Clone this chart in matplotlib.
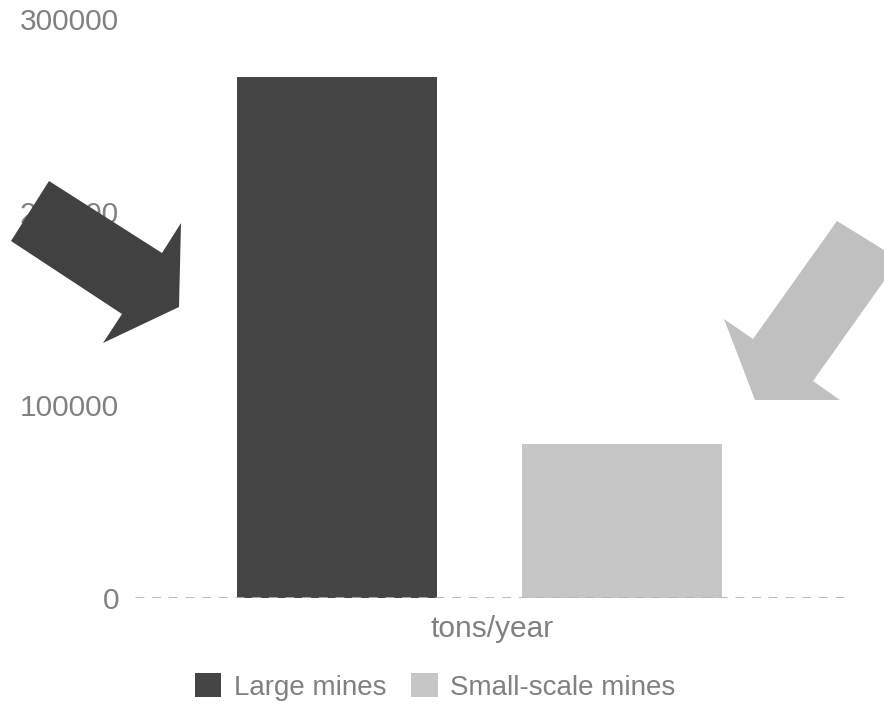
import matplotlib
matplotlib.use("Agg")
import matplotlib.pyplot as plt
from matplotlib.patches import Polygon, Patch

categories = ["Large mines", "Small-scale mines"]
values = [270000, 80000]
colors = ["#454545", "#c6c6c6"]
x_label = "tons/year"
y_ticks = [0, 100000, 200000, 300000]

W, H = 884, 704
plt.rcParams["font.family"] = ["Liberation Sans", "DejaVu Sans"]
text_color = "#808080"

fig = plt.figure(figsize=(W / 100, H / 100), dpi=100)
fig.patch.set_facecolor("white")

# axes box in pixel terms: left 135, right 850, top 19, bottom 598
ax = fig.add_axes([135 / W, 1 - 598 / H, (850 - 135) / W, (598 - 19) / H])

positions = list(range(len(categories)))
ax.bar(positions, values, width=0.7, color=colors, zorder=2)

ax.set_ylim(0, 300000)
ax.set_xlim(-0.706, 1.797)
ax.set_yticks(y_ticks)
ax.set_yticklabels([str(t) for t in y_ticks])
ax.tick_params(axis="y", length=0, pad=11.5, labelsize=21.5, labelcolor=text_color)
ax.set_xticks([])
for s in ax.spines.values():
    s.set_visible(False)

# dashed baseline drawn over the bars
ax.axhline(0, color="#b4b4b4", lw=2.0, ls=(0, (3.2, 2.8)), zorder=3)

ax.set_xlabel(x_label, fontsize=21.5, color=text_color, labelpad=12)

handles = [Patch(facecolor=c, edgecolor="none") for c in colors]
fig.legend(handles, categories, loc="center", bbox_to_anchor=(435 / W, 1 - 687 / H),
           ncol=2, frameon=False, fontsize=20, labelcolor=text_color,
           handlelength=0.95, handleheight=0.95, handletextpad=0.45,
           columnspacing=0.9, borderaxespad=0)


def px(pts):
    return [(x / W, 1 - y / H) for x, y in pts]


# decorative pointer arrows
dark_arrow = [(49, 181), (162, 253), (181, 223), (179, 307),
              (103, 343), (122, 314), (11, 241)]
light_arrow = [(837, 221), (884, 250), (884, 281), (813, 381),
               (840, 400), (755, 400), (724, 319), (753, 339)]

fig.add_artist(Polygon(px(dark_arrow), closed=True, facecolor="#414141",
                       edgecolor="none", transform=fig.transFigure, zorder=10))
fig.add_artist(Polygon(px(light_arrow), closed=True, facecolor="#c0c0c0",
                       edgecolor="none", transform=fig.transFigure, zorder=10))

fig.savefig("out.png", dpi=100)
